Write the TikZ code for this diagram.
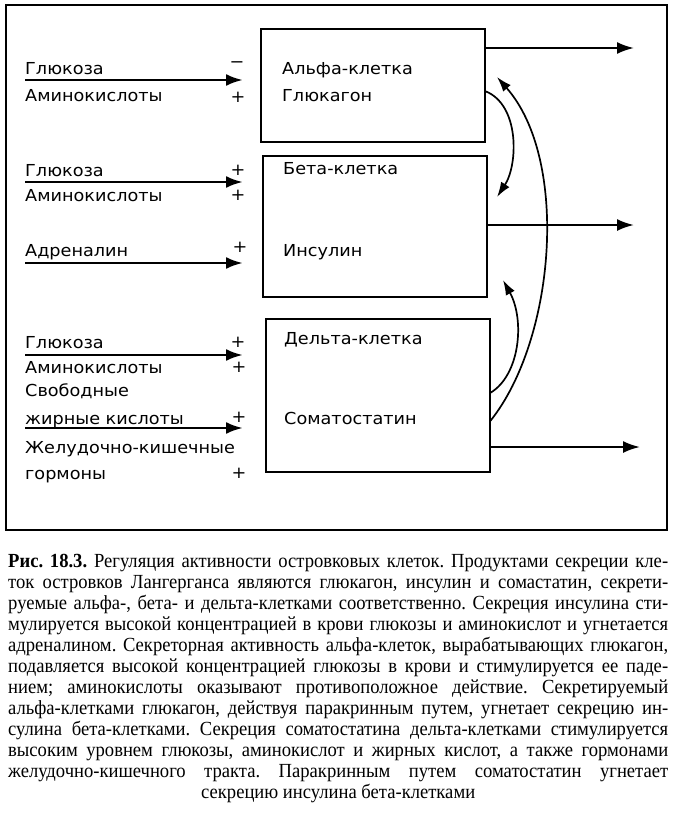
\documentclass[tikz,border=0pt]{standalone}
\usepackage{fontspec}
\setmainfont{Liberation Serif}
\newfontfamily\labelfont[FakeStretch=1.07]{DejaVu Sans}
\newfontfamily\captionfont[FakeStretch=0.93]{Liberation Serif}
\usetikzlibrary{arrows.meta}
\usetikzlibrary{positioning}

\begin{document}
\begin{tikzpicture}[x=1pt,y=-1pt]

\tikzset{cell box/.style={draw, line width=1.5pt, minimum width=224pt,
      minimum height=#1, anchor=north west, inner sep=0pt
    }, cell box/.default=113pt,
  label text/.style={anchor=base west, inner sep=0pt,
      font=\labelfont\fontsize{16.5}{19}\selectfont},
  sign/.style={inner sep=0pt, font=\labelfont\fontsize{16.5}{19}\selectfont},
  feed arrow/.style={line width=2.8pt, -{Latex[length=17pt,width=12pt]}},
  out arrow/.style={line width=2.2pt, -{Latex[length=17pt,width=12pt]}},
  bend arrow/.style={line width=1.7pt, -{Latex[length=15pt,width=10pt]}},
  caption text/.style={anchor=north west, inner sep=0pt, text width=660pt,
      align=justify, font=\captionfont\fontsize{20}{21}\selectfont}
}
\useasboundingbox (0,0) rectangle (678,819);

% frame round the scheme
\draw[line width=1.8pt] (6,5) rectangle (667,530);

% the three cells
\node[cell box] (alpha) at (260,28) {};
\node[cell box=141pt] (beta) at (262,155) {};
\node[cell box=153pt] (delta) at (265,318) {};

\node[label text] (alpha name) at (282,74) {Альфа-клетка};
\node[label text] (glucagon) at (282,101) {Глюкагон};
\node[label text] (beta name) at (283,174) {Бета-клетка};
\node[label text] (insulin) at (283,256) {Инсулин};
\node[label text] (delta name) at (284,344) {Дельта-клетка};
\node[label text] (somatostatin) at (284,424) {Соматостатин};

% factors
\foreach \y/\t [count=\i] in {74/Глюкоза, 101/Аминокислоты, 176/Глюкоза,
    201/Аминокислоты, 256/Адреналин, 348/Глюкоза, 373/Аминокислоты,
    396/Свободные, 424/жирные кислоты, 453/Желудочно-кишечные, 479/гормоны}
  \node[label text] (factor \i) at (25,\y) {\t};

\foreach \x/\y/\s [count=\i] in {237/65/−, 238/97/+, 238/170/+, 238/195/+,
    240/247/+, 238/342/+, 239/367/+, 239/417/+, 239/473/+}
  \node[sign] (sign \i) at (\x,\y) {\s};

\foreach \y/\n in {80/a, 182/b, 263/c, 355/d, 428/e} {
  \coordinate (from \n) at (25,\y);
  \coordinate (to \n) at (243,\y);
  \draw[feed arrow] (from \n) -- (to \n);
}

% secretion
\coordinate (glucagon out) at (634,48);
\coordinate (insulin out) at (634,225);
\coordinate (somatostatin out) at (640,447);
\draw[out arrow] (alpha.east |- glucagon out) -- (glucagon out);
\draw[out arrow] (beta.east |- insulin out) -- (insulin out);
\draw[out arrow] (delta.east |- somatostatin out) -- (somatostatin out);

% paracrine action
\coordinate (beta hit) at (497,197);
\coordinate (alpha hit) at (497,77);
\coordinate (beta hit low) at (503,280);
\draw[bend arrow] ([yshift=-6pt]alpha.east) .. controls (520,105) and (518,165) .. (beta hit);
\draw[bend arrow] ([yshift=-25.5pt]delta.east) .. controls (555,340) and (570,160) .. (alpha hit);
\draw[bend arrow] ([yshift=2.5pt]delta.east) .. controls (520,375) and (525,320) .. (beta hit low);

\node[caption text] (caption) at (8,554) {\hyphenpenalty=10000 \frenchspacing
\textbf{Рис. 18.3.} Регуляция активности островковых клеток. Продуктами секреции кле-\linebreak
ток островков Лангерганса являются глюкагон, инсулин и сомастатин, секрети-\linebreak
руемые альфа-, бета- и дельта-клетками соответственно. Секреция инсулина сти-\linebreak
мулируется высокой концентрацией в крови глюкозы и аминокислот и угнетается\linebreak
адреналином. Секреторная активность альфа-клеток, вырабатывающих глюкагон,\linebreak
подавляется высокой концентрацией глюкозы в крови и стимулируется ее паде-\linebreak
нием; аминокислоты оказывают противоположное действие. Секретируемый\linebreak
альфа-клетками глюкагон, действуя паракринным путем, угнетает секрецию ин-\linebreak
сулина бета-клетками. Секреция соматостатина дельта-клетками стимулируется\linebreak
высоким уровнем глюкозы, аминокислот и жирных кислот, а также гормонами\linebreak
желудочно-кишечного тракта. Паракринным путем соматостатин угнетает{\parfillskip=0pt\par}
{\centering секрецию инсулина бета-клетками\par}};
\end{tikzpicture}
\end{document}
